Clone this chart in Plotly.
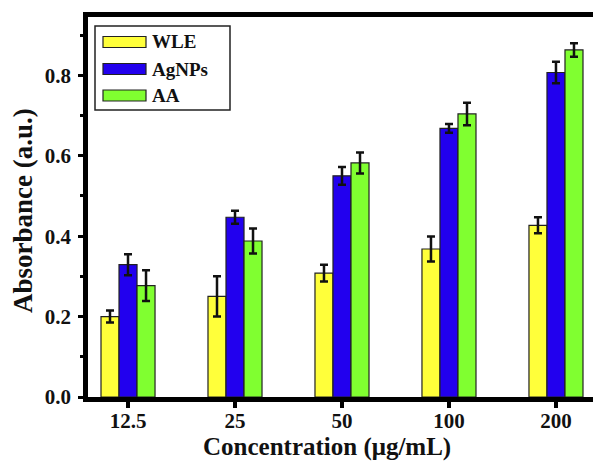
import plotly.graph_objects as go

categories = ["12.5", "25", "50", "100", "200"]
series_names = ["WLE", "AgNPs", "AA"]
wle = [0.200, 0.250, 0.308, 0.368, 0.427]
wle_err = [0.015, 0.050, 0.021, 0.031, 0.020]
agnps = [0.329, 0.447, 0.550, 0.668, 0.807]
agnps_err = [0.026, 0.016, 0.022, 0.011, 0.027]
aa = [0.277, 0.388, 0.582, 0.704, 0.863]
aa_err = [0.038, 0.031, 0.026, 0.028, 0.017]
colors = ["#FFFF3A", "#2200EE", "#80FF30"]

W, H = 593, 461
L, R, T, B = 88, 0, 17, 64
FONT = "Liberation Serif, Times New Roman, serif"

fig = go.Figure()
xidx = list(range(len(categories)))
for name, vals, errs, col in zip(series_names, [wle, agnps, aa], [wle_err, agnps_err, aa_err], colors):
    fig.add_trace(go.Bar(
        x=xidx, y=vals, name=name, marker=dict(color=col, line=dict(color="#222222", width=1.2)),
        error_y=dict(type="data", array=errs, visible=True, color="#111111", thickness=2.5, width=4),
        showlegend=False,
    ))

fig.update_layout(
    width=W, height=H, margin=dict(l=L, r=R, t=T, b=B),
    paper_bgcolor="white", plot_bgcolor="white",
    barmode="group", bargap=0.495, bargroupgap=0,
    font=dict(family=FONT, color="#111111"),
    xaxis=dict(
        range=[-0.374, 4.346], tickmode="array", tickvals=xidx, ticktext=categories,
        showline=True, linecolor="black", linewidth=4.5, mirror=True,
        ticks="outside", ticklen=6, tickwidth=4, tickcolor="black",
        tickfont=dict(size=21, family=FONT, color="#111111", weight="bold"),
        showgrid=False, zeroline=False, ticklabelstandoff=-5,
    ),
    yaxis=dict(
        range=[0, 0.945], tickmode="array", tickvals=[0, 0.2, 0.4, 0.6, 0.8],
        ticktext=["0.0", "0.2", "0.4", "0.6", "0.8"],
        showline=True, linecolor="black", linewidth=4.5, mirror=False,
        ticks="outside", ticklen=5, tickwidth=3, tickcolor="black",
        minor=dict(tickvals=[0.1, 0.3, 0.5, 0.7, 0.9], ticks="outside", ticklen=3, tickwidth=3, tickcolor="black"),
        tickfont=dict(size=21, family=FONT, color="#111111", weight="bold"),
        showgrid=False, zeroline=False, ticklabelstandoff=3,
    ),
)

def px(x):
    return (x - L) / (W - L - R)

def py(y):
    return (H - B - y) / (H - B - T)

# axis titles
fig.add_annotation(text="Concentration (μg/mL)", xref="paper", yref="paper",
                   x=px(327), y=py(447), showarrow=False, xanchor="center", yanchor="middle",
                   font=dict(size=25, family=FONT, color="#111111", weight="bold"))
fig.add_annotation(text="Absorbance (a.u.)", xref="paper", yref="paper",
                   x=px(23), y=py(211), showarrow=False, xanchor="center", yanchor="middle", textangle=-90,
                   font=dict(size=27, family=FONT, color="#111111", weight="bold"))

# legend box
fig.add_shape(type="rect", xref="paper", yref="paper", x0=px(95), x1=px(230), y0=py(26), y1=py(110),
              line=dict(color="#222222", width=1.5), fillcolor="white")
legend_y = [42, 69, 95.5]
for ly, col, txt in zip(legend_y, colors, series_names):
    fig.add_shape(type="rect", xref="paper", yref="paper", x0=px(103), x1=px(146), y0=py(ly - 5.5), y1=py(ly + 5.5),
                  line=dict(color="#222222", width=1.2), fillcolor=col)
    fig.add_annotation(text=txt, xref="paper", yref="paper", x=px(150), y=py(ly), showarrow=False,
                       xanchor="left", yanchor="middle",
                       font=dict(size=19, family=FONT, color="#111111", weight="bold"))

fig.write_html("out.html", config={"displayModeBar": False},
               post_script="document.body.style.margin='0';document.body.style.padding='0';")
